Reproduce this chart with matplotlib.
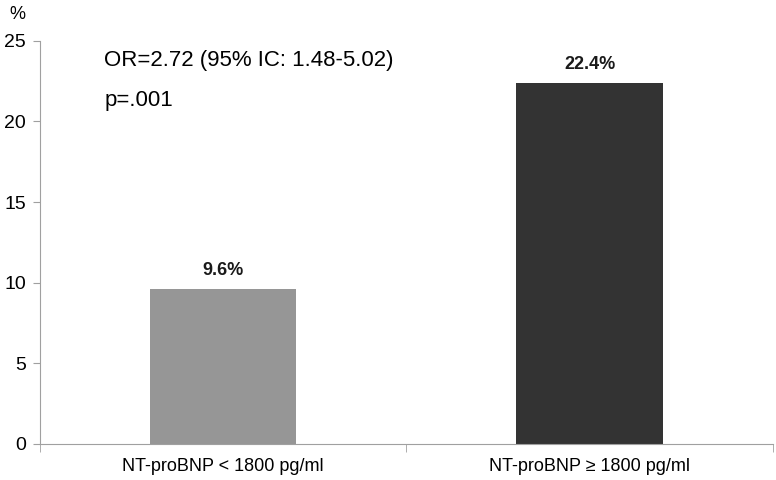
import matplotlib.pyplot as plt

categories = ["NT-proBNP < 1800 pg/ml", "NT-proBNP \u2265 1800 pg/ml"]
values = [9.6, 22.4]
value_labels = ["9.6%", "22.4%"]
colors = ["#969696", "#333333"]

plt.rcParams['font.family'] = ['Liberation Sans', 'DejaVu Sans']

fig = plt.figure(figsize=(7.76, 4.8), dpi=100)
ax = fig.add_axes([0.0515, 0.075, 0.9445, 0.84])

x = range(len(categories))
ax.bar(x, values, width=0.4, color=colors)
for i, v in enumerate(values):
    ax.text(i, v + 0.6, value_labels[i], ha="center", va="bottom",
            fontsize=13, fontweight="bold", color="#1a1a1a")

ax.set_xlim(-0.5, 1.5)
ax.set_ylim(0, 25)
ax.set_yticks([0, 5, 10, 15, 20, 25])
ax.set_xticks(list(x))
ax.set_xticklabels(categories, fontsize=13)
ax.set_xticks([-0.5, 0.5, 1.5], minor=True)
ax.tick_params(axis="x", which="major", length=0, pad=10)
ax.tick_params(axis="x", which="minor", length=6, color="#a0a0a0")
ax.tick_params(axis="y", length=5, color="#a0a0a0", labelsize=14, pad=5)

for s in ["top", "right"]:
    ax.spines[s].set_visible(False)
for s in ["left", "bottom"]:
    ax.spines[s].set_color("#a0a0a0")

ax.text(-0.325, 23.8, "OR=2.72 (95% IC: 1.48-5.02)", fontsize=16, va="center")
ax.text(-0.325, 21.3, "p=.001", fontsize=16, va="center")
fig.text(0.012, 0.97, "%", fontsize=13, va="center")

plt.savefig("out.png", dpi=100)
